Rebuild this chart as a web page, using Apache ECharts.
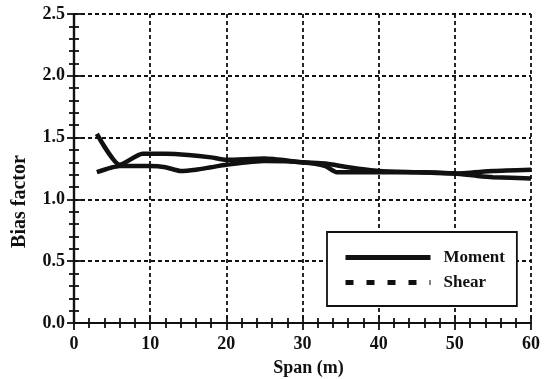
<!DOCTYPE html>
<html>
<head>
<meta charset="utf-8">
<script src="https://cdn.jsdelivr.net/npm/echarts@6/dist/echarts.min.js"></script>
<style>html,body{margin:0;padding:0;background:#fff}#c{width:552px;height:379px}</style>
</head>
<body>
<div id="c"></div>
<script>
const momentData = [[3,1.53],[6,1.28],[9,1.37],[12,1.37],[15,1.36],[18,1.34],[20,1.32],[25,1.33],[30,1.30],[33,1.29],[36,1.26],[40,1.23],[45,1.22],[50,1.21],[55,1.23],[60,1.24]];
const shearData = [[3,1.22],[6,1.27],[10,1.27],[12,1.26],[14,1.23],[16,1.24],[18,1.26],[20,1.28],[25,1.31],[30,1.30],[33,1.27],[34.5,1.22],[36,1.22],[40,1.22],[45,1.22],[50,1.21],[53,1.19],[55,1.18],[60,1.17]];
const seriesNames = ['Moment','Shear'];
const xTicks = {min:0, max:60, interval:10};
const yTicks = {min:0, max:2.5, interval:0.5};

const font = 'Liberation Serif';
const chart = echarts.init(document.getElementById('c'));
const gridDash = {color:'#111', width:1.8, type:[4,3]};
const tickStyle = {color:'#111', width:1.8};
const labelStyle = {fontFamily:font, fontSize:18, fontWeight:'bold', color:'#111'};
chart.setOption({
  animation:false,
  grid:{left:74, right:21, top:14, bottom:56, containLabel:false, outerBoundsMode:'none'},
  legend:{
    orient:'vertical', left:327, top:232,
    padding:[17,12,15,16], itemGap:8, itemWidth:85, itemHeight:14,
    backgroundColor:'#fff', borderColor:'#111', borderWidth:1.8, borderRadius:0,
    textStyle:{fontFamily:font, fontSize:17, fontWeight:'bold', color:'#111', padding:[0,0,0,8]},
    data:[
      {name:seriesNames[0], itemStyle:{opacity:0}, lineStyle:{width:5, type:'solid', color:'#111'}},
      {name:seriesNames[1], itemStyle:{opacity:0}, lineStyle:{width:5, type:[8,13], color:'#111'}}
    ]
  },
  xAxis:[{
    type:'value', min:xTicks.min, max:xTicks.max, interval:xTicks.interval,
    name:'Span (m)', nameLocation:'middle', nameGap:36,
    nameTextStyle:Object.assign({}, labelStyle, {padding:[0,0,0,12]}),
    axisLine:{lineStyle:{color:'#111', width:2.2}},
    axisTick:{inside:true, length:7, lineStyle:tickStyle},
    minorTick:{show:true, splitNumber:5, length:5, lineStyle:tickStyle},
    axisLabel:Object.assign({margin:12}, labelStyle),
    splitLine:{show:true, lineStyle:gridDash}
  },{
    type:'value', position:'top', min:xTicks.min, max:xTicks.max, interval:xTicks.interval,
    axisLine:{show:false},
    axisTick:{inside:true, length:7, lineStyle:tickStyle},
    minorTick:{show:true, splitNumber:5, length:5, lineStyle:tickStyle},
    axisLabel:{show:false}, splitLine:{show:false}
  }],
  yAxis:[{
    type:'value', min:yTicks.min, max:yTicks.max, interval:yTicks.interval,
    name:'Bias factor', nameLocation:'middle', nameGap:44, nameRotate:90,
    nameTextStyle:Object.assign({}, labelStyle, {fontSize:20, padding:[0,66,0,0]}),
    axisLine:{show:true, lineStyle:{color:'#111', width:2.2}},
    axisTick:{show:true, inside:true, length:7, lineStyle:tickStyle},
    minorTick:{show:true, splitNumber:5, length:5, lineStyle:tickStyle},
    axisLabel:Object.assign({margin:9, formatter:v=>v.toFixed(1)}, labelStyle),
    splitLine:{show:true, lineStyle:gridDash}
  },{
    type:'value', position:'right', min:yTicks.min, max:yTicks.max, interval:yTicks.interval,
    axisLine:{show:true, lineStyle:{color:'#111', width:2.2}},
    axisTick:{show:true, inside:true, length:7, lineStyle:tickStyle},
    minorTick:{show:true, splitNumber:5, length:5, lineStyle:tickStyle},
    axisLabel:{show:false}, splitLine:{show:false}
  }],
  series:[
    {name:seriesNames[0], type:'line', data:momentData, symbol:'none', smooth:0.2,
     lineStyle:{color:'#111', width:4.5}},
    {name:seriesNames[1], type:'line', data:shearData, symbol:'none', smooth:0.2,
     lineStyle:{color:'#111', width:4.5}}
  ]
});
</script>
</body>
</html>
